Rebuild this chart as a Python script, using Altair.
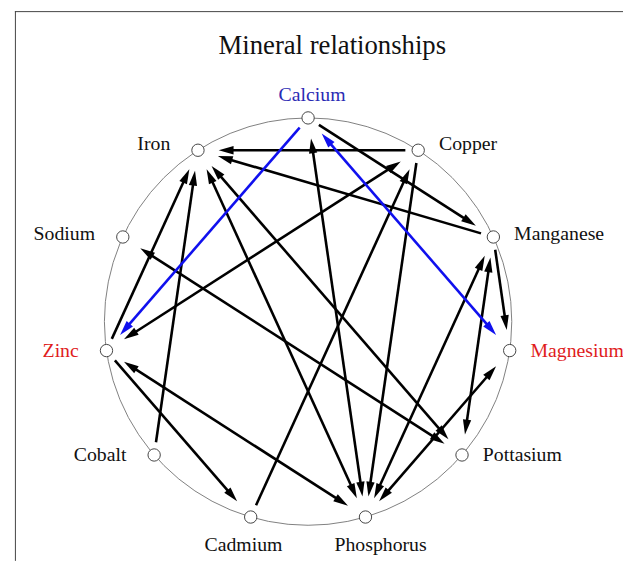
import numpy as np
import pandas as pd
import altair as alt

# ---------------- data ----------------
minerals = ["Calcium", "Copper", "Manganese", "Magnesium", "Pottasium",
            "Phosphorus", "Cadmium", "Cobalt", "Zinc", "Sodium", "Iron"]
label_kind = ["blue", "plain", "plain", "red", "plain",
              "plain", "plain", "plain", "red", "plain", "plain"]

edge_source = ["Calcium", "Calcium", "Magnesium", "Calcium", "Calcium", "Phosphorus",
               "Copper", "Copper", "Zinc", "Cadmium", "Copper",
               "Manganese", "Manganese", "Manganese", "Phosphorus", "Manganese", "Pottasium",
               "Magnesium", "Phosphorus", "Pottasium", "Iron", "Pottasium", "Sodium",
               "Phosphorus", "Iron", "Zinc", "Phosphorus", "Zinc", "Zinc", "Cobalt"]
edge_target = ["Zinc", "Magnesium", "Calcium", "Manganese", "Phosphorus", "Calcium",
               "Iron", "Zinc", "Copper", "Copper", "Phosphorus",
               "Iron", "Magnesium", "Phosphorus", "Manganese", "Pottasium", "Manganese",
               "Phosphorus", "Magnesium", "Iron", "Pottasium", "Sodium", "Pottasium",
               "Iron", "Phosphorus", "Phosphorus", "Zinc", "Cadmium", "Iron", "Iron"]
highlighted_edges = [("Calcium", "Zinc"), ("Calcium", "Magnesium"), ("Magnesium", "Calcium")]

title_text = "Mineral relationships"

# ---------------- layout (circular) ----------------
W, H = 622, 556
OX, OY = 8, 8
CX, CY, R = 311.5, 322.0, 206.0
FONT = "Liberation Serif"
BLACK, BLUE = "#000000", "#1010ee"
KIND_COLORS = {"blue": "#2a2ab4", "red": "#e01c1c", "plain": "#111111"}

n = len(minerals)
theta = np.deg2rad(90 - np.arange(n) * 360.0 / n)
nx = CX + R * np.cos(theta)
ny = CY - R * np.sin(theta)
pos = {m: (nx[i], ny[i]) for i, m in enumerate(minerals)}

nodes = pd.DataFrame({"name": minerals, "x": nx, "y": ny})

# labels
cos, sin = np.cos(theta), np.sin(theta)
is_side = np.abs(cos) > 0.3
lab_align = np.where(is_side, np.where(cos > 0, "left", "right"), "center")
lab_x = np.where(is_side, np.where(cos > 0, nx + 21, nx - 28), nx + 40 * cos + 4)
lab_y = np.where(is_side, ny + 6 - 8 * np.maximum(sin, 0), ny - 26 * sin + 9)
labels = pd.DataFrame({"name": minerals, "x": lab_x, "y": lab_y, "al": lab_align,
                       "col": [KIND_COLORS[k] for k in label_kind]})

# edges
directed = set(zip(edge_source, edge_target))
hl = set(highlighted_edges)
TIP, AL, START = 21.0, 15.0, 13.0
line_rows, arrow_rows = [], []
seen = set()
for s, t in zip(edge_source, edge_target):
    key = frozenset((s, t))
    if key in seen:
        continue
    seen.add(key)
    back = (t, s) in directed
    col = BLUE if ((s, t) in hl or (t, s) in hl) else BLACK
    S = np.array(pos[s]); T = np.array(pos[t])
    u = (T - S) / np.linalg.norm(T - S)
    p0 = S + u * ((TIP + AL - 4) if back else START)
    p1 = T - u * (TIP + AL - 4)
    line_rows.append({"x": p0[0], "y": p0[1], "x2": p1[0], "y2": p1[1], "col": col,
                      "o": 1 if col == BLUE else 0})
    c = T - u * (TIP + AL / 2)
    arrow_rows.append({"x": c[0], "y": c[1],
                       "ang": float(np.degrees(np.arctan2(u[0], -u[1])) % 360), "col": col})
    if back:
        c = S + u * (TIP + AL / 2)
        arrow_rows.append({"x": c[0], "y": c[1],
                           "ang": float(np.degrees(np.arctan2(-u[0], u[1])) % 360), "col": col})

lines = pd.DataFrame(line_rows).sort_values("o", kind="stable")
arrows = pd.DataFrame(arrow_rows)
ring = pd.DataFrame({"x": [CX], "y": [CY]})
dummy = pd.DataFrame({"k": [0]})

# ---------------- chart ----------------
xs = alt.Scale(domain=[OX, OX + W], nice=False, zero=False)
ys = alt.Scale(domain=[OY, OY + H], nice=False, zero=False, reverse=True)
X = alt.X("x:Q", scale=xs, axis=None)
Y = alt.Y("y:Q", scale=ys, axis=None)

frame_left = alt.Chart(dummy).mark_rule(color="#444444", strokeWidth=1).encode(
    x=alt.value(7.5), y=alt.value(0), y2=alt.value(H))
frame_top = alt.Chart(dummy).mark_rule(color="#444444", strokeWidth=1).encode(
    x=alt.value(7), x2=alt.value(W), y=alt.value(0.5))

circle_layer = alt.Chart(ring).mark_point(
    shape="circle", size=(2 * R) ** 2, filled=False, stroke="#808080",
    strokeWidth=1, opacity=1).encode(x=X, y=Y)

line_layer = alt.Chart(lines).mark_rule(strokeWidth=2.6, strokeCap="butt").encode(
    x=X, y=Y, x2="x2:Q", y2="y2:Q", color=alt.Color("col:N", scale=None))

arrow_layer = alt.Chart(arrows).mark_point(
    shape="M0,-1L0.56,1L-0.56,1Z", size=AL ** 2, filled=True, opacity=1,
    strokeWidth=0).encode(x=X, y=Y, angle=alt.Angle("ang:Q", scale=None),
                          color=alt.Color("col:N", scale=None))

node_layer = alt.Chart(nodes).mark_point(
    shape="circle", size=156, filled=True, fill="white", stroke="#444444",
    strokeWidth=1, opacity=1).encode(x=X, y=Y)

text_layers = []
for al in ["left", "right", "center"]:
    text_layers.append(
        alt.Chart(labels).transform_filter(alt.datum.al == al).mark_text(
            align=al, baseline="alphabetic", font=FONT, fontSize=20).encode(
            x=X, y=Y, text="name:N", color=alt.Color("col:N", scale=None)))

title_layer = alt.Chart(pd.DataFrame({"t": [title_text]})).mark_text(
    align="center", baseline="alphabetic", font=FONT, fontSize=27, color="#111111").encode(
    x=alt.value(336 - OX), y=alt.value(51 - OY), text="t:N")

chart = alt.layer(frame_left, frame_top, circle_layer, line_layer, arrow_layer,
                  node_layer, *text_layers, title_layer).properties(
    width=W, height=H, padding=0, autosize="none").configure_view(stroke=None)

chart.save("out.html", embed_options={"renderer": "svg", "actions": False})
